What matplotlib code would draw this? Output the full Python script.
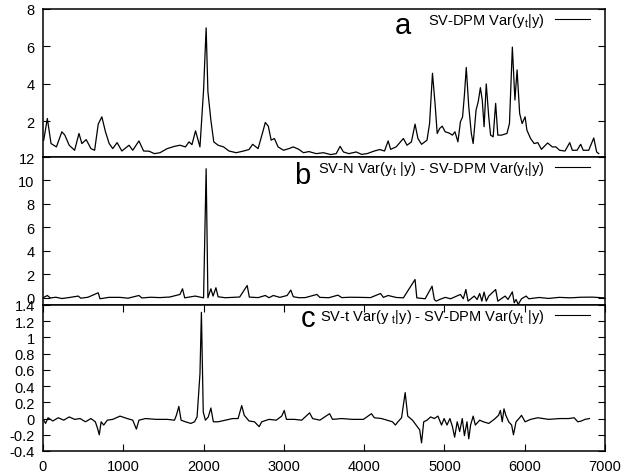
import matplotlib
matplotlib.use("Agg")
import matplotlib.pyplot as plt

plt.rcParams['font.family'] = ['Liberation Sans', 'DejaVu Sans']
plt.rcParams['mathtext.fontset'] = 'custom'
plt.rcParams['mathtext.rm'] = 'Liberation Sans'
plt.rcParams['mathtext.it'] = 'Liberation Sans'

# ---- Panel a: SV-DPM Var(y_t|y) ----
a_x = [9, 54, 100, 167, 235, 272, 326, 394, 448, 484,
       538, 597, 643, 688, 733, 778, 824, 869, 923, 982,
       1072, 1118, 1195, 1253, 1321, 1389, 1457, 1548, 1638, 1706,
       1774, 1819, 1855, 1900, 1955, 2000, 2032, 2054, 2091, 2127,
       2181, 2249, 2317, 2407, 2498, 2566, 2611, 2679, 2738, 2769,
       2806, 2842, 2882, 2928, 2996, 3063, 3118, 3186, 3244, 3312,
       3403, 3493, 3584, 3652, 3701, 3742, 3810, 3901, 3968, 4036,
       4127, 4195, 4254, 4299, 4330, 4398, 4489, 4534, 4589, 4634,
       4670, 4715, 4783, 4815, 4851, 4883, 4910, 4941, 4973, 5009,
       5054, 5100, 5131, 5168, 5199, 5226, 5249, 5272, 5303, 5335,
       5358, 5394, 5421, 5448, 5471, 5494, 5521, 5552, 5575, 5607,
       5638, 5665, 5711, 5779, 5810, 5846, 5878, 5905, 5937, 5968,
       6005, 6027, 6073, 6118, 6163, 6208, 6285, 6344, 6389, 6434,
       6502, 6561, 6593, 6652, 6697, 6729, 6797, 6860, 6896, 6923]
a_y = [0.98, 2.14, 0.80, 0.62, 1.43, 1.25, 0.71, 0.44, 1.34, 0.80,
       1.01, 0.53, 0.44, 1.84, 2.23, 1.43, 0.80, 0.53, 0.85, 0.40,
       0.71, 0.44, 0.94, 0.40, 0.39, 0.26, 0.31, 0.53, 0.65, 0.71,
       0.62, 0.89, 0.74, 1.48, 0.62, 3.67, 6.99, 3.58, 2.05, 0.89,
       0.71, 0.62, 0.40, 0.31, 0.40, 0.48, 0.76, 0.53, 1.43, 1.93,
       1.73, 0.98, 1.07, 0.62, 0.44, 0.53, 0.62, 0.49, 0.31, 0.37,
       0.26, 0.31, 0.21, 0.26, 0.65, 0.35, 0.26, 0.35, 0.22, 0.26,
       0.40, 0.48, 0.40, 0.94, 0.49, 0.62, 1.07, 0.71, 0.89, 1.84,
       1.07, 0.76, 0.98, 1.87, 4.56, 2.95, 1.34, 1.61, 1.73, 1.43,
       1.37, 1.25, 1.43, 0.89, 1.96, 2.23, 3.40, 4.87, 2.77, 1.34,
       0.80, 2.59, 3.04, 3.79, 3.13, 1.70, 3.99, 2.23, 1.25, 1.16,
       2.95, 1.25, 1.25, 1.34, 1.87, 5.96, 3.13, 4.74, 2.41, 1.87,
       2.23, 1.52, 1.07, 0.80, 0.85, 0.49, 0.83, 0.62, 0.62, 0.44,
       0.40, 0.85, 0.44, 0.44, 0.76, 0.44, 0.44, 1.10, 0.35, 0.26]

# ---- Panel b: SV-N Var - SV-DPM Var ----
b_x = [0, 54, 90, 160, 235, 330, 439, 471, 560, 688,
       710, 820, 959, 1060, 1195, 1231, 1340, 1457, 1580, 1706,
       1738, 1765, 1896, 2000, 2032, 2054, 2091, 2118, 2154, 2181,
       2270, 2362, 2450, 2543, 2570, 2680, 2769, 2815, 2869, 2950,
       3041, 3086, 3118, 3190, 3267, 3412, 3448, 3560, 3674, 3720,
       3830, 3946, 4080, 4204, 4240, 4299, 4400, 4489, 4634, 4656,
       4760, 4846, 4874, 4897, 4941, 5010, 5077, 5199, 5235, 5267,
       5294, 5371, 5407, 5439, 5466, 5494, 5521, 5552, 5638, 5665,
       5756, 5792, 5846, 5869, 5892, 5919, 5960, 6018, 6050, 6180,
       6299, 6430, 6570, 6700, 6842, 6987]
b_y = [0.01, 0.21, 0.00, 0.06, -0.05, 0.04, 0.16, -0.02, 0.06, 0.44,
       -0.07, 0.05, 0.05, -0.02, 0.21, 0.00, 0.06, 0.03, 0.08, 0.30,
       0.78, 0.01, 0.16, 0.01, 11.0, 0.01, 0.78, 0.16, 0.87, 0.10,
       0.02, 0.05, 0.08, 1.06, 0.07, 0.03, 0.21, 0.02, 0.21, 0.05,
       0.21, 0.67, 0.10, 0.02, 0.03, 0.30, 0.05, 0.02, 0.24, 0.03,
       0.06, 0.05, 0.03, 0.38, 0.05, 0.21, 0.04, 0.01, 1.57, 0.01,
       -0.07, 1.00, -0.13, -0.27, -0.13, 0.05, -0.07, 0.30, -0.07, 0.72,
       -0.27, 0.16, -0.13, 0.38, -0.27, 0.50, -0.27, 0.16, 0.72, -0.27,
       0.16, -0.13, 0.52, -0.41, -0.13, -0.55, -0.07, 0.16, -0.07, 0.04,
       -0.04, 0.05, 0.01, 0.06, 0.07, 0.01]

# ---- Panel c: SV-t Var - SV-DPM Var ----
c_x = [9, 32, 63, 122, 190, 258, 326, 394, 462, 529,
       597, 652, 679, 701, 724, 756, 801, 869, 959, 1050,
       1118, 1163, 1195, 1276, 1412, 1548, 1638, 1661, 1692, 1720,
       1774, 1842, 1887, 1919, 1955, 1973, 1996, 2023, 2059, 2091,
       2122, 2181, 2272, 2362, 2430, 2475, 2507, 2566, 2634, 2692,
       2724, 2815, 2905, 2973, 3005, 3032, 3131, 3222, 3321, 3358,
       3448, 3570, 3606, 3720, 3855, 3991, 4091, 4127, 4217, 4285,
       4353, 4389, 4421, 4466, 4511, 4543, 4602, 4647, 4692, 4715,
       4742, 4783, 4828, 4874, 4919, 4964, 4996, 5032, 5068, 5100,
       5127, 5159, 5190, 5222, 5249, 5281, 5303, 5326, 5358, 5385,
       5439, 5485, 5552, 5620, 5674, 5697, 5720, 5742, 5765, 5801,
       5837, 5860, 5892, 5937, 5960, 6005, 6073, 6163, 6299, 6434,
       6548, 6616, 6661, 6706, 6751, 6806]
c_y = [-0.02, -0.06, 0.01, -0.03, 0.01, -0.02, 0.02, -0.01, 0.00, -0.04,
       0.00, -0.04, -0.12, -0.20, -0.04, -0.08, -0.02, -0.01, 0.03, 0.00,
       -0.02, -0.13, -0.02, 0.00, -0.01, -0.01, -0.02, 0.04, 0.15, -0.02,
       -0.04, -0.06, -0.04, 0.02, 0.55, 1.31, 0.08, -0.02, 0.02, 0.13,
       -0.04, -0.04, -0.02, 0.00, 0.00, 0.16, 0.04, -0.03, -0.04, -0.10,
       -0.04, -0.01, -0.02, 0.03, 0.10, -0.01, -0.01, -0.02, 0.07, 0.00,
       -0.02, 0.06, -0.01, 0.00, -0.01, -0.01, 0.06, 0.01, 0.00, -0.02,
       -0.04, -0.08, -0.04, 0.01, 0.32, 0.03, -0.02, -0.08, -0.14, -0.30,
       -0.04, -0.02, 0.02, 0.00, 0.03, -0.08, 0.00, -0.08, 0.00, -0.10,
       -0.23, -0.04, -0.16, 0.00, -0.21, -0.04, -0.25, -0.08, 0.03, -0.08,
       -0.02, -0.04, -0.06, -0.01, 0.04, 0.10, -0.04, 0.12, 0.04, -0.04,
       -0.08, -0.20, -0.04, 0.01, 0.04, -0.04, -0.01, 0.01, -0.01, 0.00,
       0.00, 0.01, -0.04, -0.03, -0.01, 0.00]

x_ticks = [0, 1000, 2000, 3000, 4000, 5000, 6000, 7000]
a_ticks = [2, 4, 6, 8]
b_ticks = [0, 2, 4, 6, 8, 10, 12]
c_ticks = [-0.4, -0.2, 0, 0.2, 0.4, 0.6, 0.8, 1, 1.2, 1.4]
c_ticklabels = ['-0.4', '-0.2', '0', '0.2', '0.4', '0.6', '0.8', '1', '1.2', '1.4']

labels = [r"SV-DPM Var(y$_\mathrm{t}$|y)",
          r"SV-N Var(y$_\mathrm{t}$ |y) - SV-DPM Var(y$_\mathrm{t}$|y)",
          r"SV-t Var(y $_\mathrm{t}$|y) - SV-DPM Var(y$_\mathrm{t}$ |y)"]
letters = ['a', 'b', 'c']

W, H = 642, 477
fig = plt.figure(figsize=(W / 100, H / 100), dpi=100)

left, right = 43, 605
panels = [(10, 158), (158, 306), (306, 452)]
axes = []
for (top, bot) in panels:
    ax = fig.add_axes([left / W, 1 - bot / H, (right - left) / W, (bot - top) / H])
    axes.append(ax)

ax_a, ax_b, ax_c = axes
ax_a.plot(a_x, a_y, color='black', lw=0.9)
ax_b.plot(b_x, b_y, color='black', lw=0.9)
ax_c.plot(c_x, c_y, color='black', lw=0.9)

ax_a.set_ylim(0.08, 8)
ax_b.set_ylim(-0.6, 12)
ax_c.set_ylim(-0.4, 1.4)
ax_a.set_yticks(a_ticks)
ax_b.set_yticks(b_ticks)
ax_c.set_yticks(c_ticks)
ax_c.set_yticklabels(c_ticklabels)

letter_pos = [(0.64, 0.895), (0.462, 0.88), (0.472, 0.912)]
for ax, lab, let, lp in zip(axes, labels, letters, letter_pos):
    ax.set_xlim(0, 7000)
    ax.set_xticks(x_ticks)
    for s in ax.spines.values():
        s.set_linewidth(1.1)
    ax.tick_params(axis='y', direction='in', length=5, width=0.8,
                   left=True, right=True, labelsize=10.5, pad=6)
    ax.lines[0].set_label(lab)
    leg = ax.legend(loc='upper right', bbox_to_anchor=(0.979, 1.01),
                    frameon=False, markerfirst=False, fontsize=10.5,
                    handlelength=2.4, handletextpad=0.7, borderpad=0.25,
                    borderaxespad=0.0)
    for ln in leg.get_lines():
        ln.set_linewidth(0.8)
    ax.text(lp[0], lp[1], let, transform=ax.transAxes, fontsize=21,
            ha='center', va='center')

for ax in (ax_a, ax_b):
    ax.tick_params(axis='x', bottom=False, top=False, labelbottom=False)
ax_c.tick_params(axis='x', direction='in', length=5, width=0.8,
                 bottom=True, top=True, labelsize=10.5, pad=6)

fig.savefig('out.png', dpi=100)
